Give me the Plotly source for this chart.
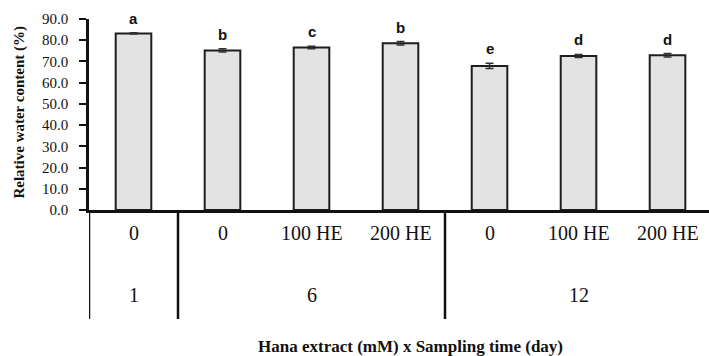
import plotly.graph_objects as go

treatments = ["0", "0", "100 HE", "200 HE", "0", "100 HE", "200 HE"]
rwc = [83.2, 75.2, 76.6, 78.6, 67.9, 72.6, 72.9]
err = [0.3, 0.8, 0.6, 0.8, 1.2, 0.7, 0.8]
letters = ["a", "b", "c", "b", "e", "d", "d"]
days = ["1", "6", "12"]
day_centers = [0, 2, 5]
group_bounds = [-0.5, 0.5, 3.5]
yticks = [0, 10, 20, 30, 40, 50, 60, 70, 80, 90]

xs = list(range(len(rwc)))

fig = go.Figure()
fig.add_trace(go.Bar(
    x=xs, y=rwc, width=0.40,
    marker=dict(color="#e3e3e3", line=dict(color="#1e1e1e", width=2)),
    error_y=dict(type="data", array=err, visible=True, color="#333333", thickness=1.5, width=4),
    showlegend=False,
))

serif = "Liberation Serif, Times New Roman, serif"
ann = []
for i, (v, e, l) in enumerate(zip(rwc, err, letters)):
    ann.append(dict(x=i, y=v + e, xref="x", yref="y", text="<b>%s</b>" % l, showarrow=False,
                    yanchor="bottom", yshift=4,
                    font=dict(family="Liberation Sans, Arial, sans-serif", size=15, color="#111")))
for i, t in enumerate(treatments):
    ann.append(dict(x=i, y=-0.12, xref="x", yref="paper", text=t, showarrow=False,
                    yanchor="middle", font=dict(family=serif, size=20, color="#111")))
for c, d in zip(day_centers, days):
    ann.append(dict(x=c, y=-0.445, xref="x", yref="paper", text=d, showarrow=False,
                    yanchor="middle", font=dict(family=serif, size=20, color="#111")))
ann.append(dict(x=0.519, y=-0.717, xref="paper", yref="paper",
                text="<b>Hana extract (mM) x Sampling time (day)</b>", showarrow=False,
                yanchor="middle", font=dict(family=serif, size=17, color="#111")))
ann.append(dict(x=0, y=0.51, xref="paper", yref="paper", xshift=-69,
                text="<b>Relative water content (%)</b>", showarrow=False, textangle=-90,
                xanchor="center", yanchor="middle", font=dict(family=serif, size=15, color="#111")))

shapes = []
for b in group_bounds:
    shapes.append(dict(type="line", xref="x", yref="paper", x0=b, x1=b, y0=0, y1=-0.571,
                       line=dict(color="#111", width=2.5)))

fig.update_layout(
    width=709, height=356,
    margin=dict(l=89, r=0, t=19, b=146),
    paper_bgcolor="white", plot_bgcolor="white",
    annotations=ann, shapes=shapes,
    xaxis=dict(range=[-0.5, 6.466], showticklabels=False, showline=True, linecolor="#111",
               linewidth=2.5, showgrid=False, zeroline=False, ticks=""),
    yaxis=dict(range=[0, 90], tickvals=yticks, ticktext=["%.1f" % v for v in yticks],
               showline=True, linecolor="#111", linewidth=2.5, ticks="outside", ticklen=7,
               tickwidth=2, tickcolor="#111", ticklabelstandoff=8, showgrid=False, zeroline=False,
               tickfont=dict(family=serif, size=15, color="#111")),
)

fig.write_html("out.html")
